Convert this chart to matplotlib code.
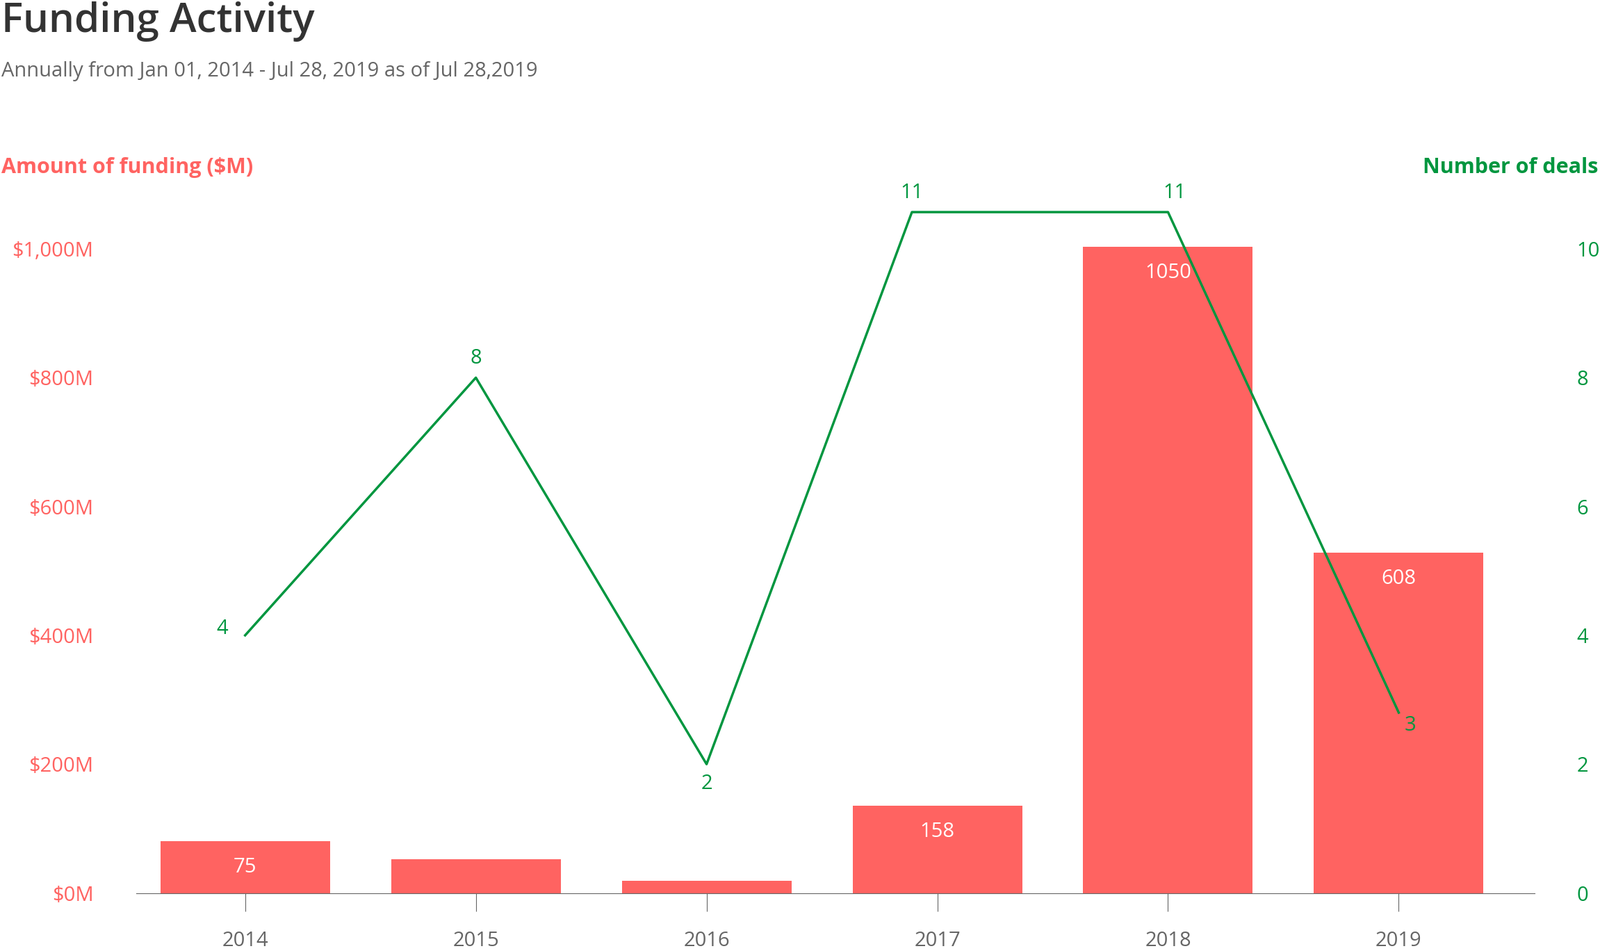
import matplotlib
matplotlib.use("Agg")
import matplotlib.pyplot as plt
import numpy as np

plt.rcParams["font.family"] = "Open Sans"

years = ["2014", "2015", "2016", "2017", "2018", "2019"]
funding = [80, 52, 19, 135, 1003, 528]          # bar heights as drawn ($M)
funding_labels = ["75", "", "", "158", "1050", "608"]
deals = [4, 8, 2, 10.57, 10.57, 2.8]             # line as drawn
deal_labels = ["4", "8", "2", "11", "11", "3"]
deal_shift = [0, 0, 0, -0.11, 0, 0]              # line point drawn slightly left of 2017 tick
left_ticks = [0, 200, 400, 600, 800, 1000]
left_ticklabels = ["$0M", "$200M", "$400M", "$600M", "$800M", "$1,000M"]
right_ticks = [0, 2, 4, 6, 8, 10]

RED = "#ff6361"
GREEN = "#00963f"
GREY = "#666666"

fig = plt.figure(figsize=(23.02, 13.68), dpi=100)
ax = fig.add_axes([0.085, 0.061, 0.874, 0.718])
ax2 = ax.twinx()

x = np.arange(len(years))
ax.bar(x, funding, width=0.735, color=RED, zorder=1)
for xi, h, lab in zip(x, funding, funding_labels):
    if lab:
        ax.text(xi, h - 40, lab, ha="center", va="center", color="white", fontsize=21)

lx = x + np.array(deal_shift)
ax2.plot(lx, deals, color=GREEN, lw=2.5)
offsets = [(-0.1, 0.1), (0, 0.3), (0, -0.3), (0, 0.3), (0.03, 0.3), (0.05, -0.2)]
for xi, v, lab, (dx, dy) in zip(lx, deals, deal_labels, offsets):
    ax2.text(xi + dx, v + dy, lab, ha="center", va="center", color=GREEN, fontsize=21)

ax.set_xlim(-0.473, 5.588)
ax.set_ylim(0, 1060)
ax2.set_ylim(0, 10.6)
ax.set_xticks(x)
ax.set_xticklabels(years, color=GREY, fontsize=21)
ax.tick_params(axis="x", length=19, color=GREY, pad=20)
ax.set_yticks(left_ticks)
ax.set_yticklabels(left_ticklabels, color=RED, fontsize=21)
ax.tick_params(axis="y", length=0, pad=44)
ax2.set_yticks(right_ticks)
ax2.set_yticklabels([str(t) for t in right_ticks], color=GREEN, fontsize=21)
ax2.tick_params(axis="y", length=0, pad=44)

for a in (ax, ax2):
    for s in ["top", "left", "right", "bottom"]:
        a.spines[s].set_visible(False)
ax.spines["bottom"].set_visible(True)
ax.spines["bottom"].set_color(GREY)

fig.text(0.001, 0.977, "Funding Activity", fontsize=42, color="#333333", va="center", fontweight="semibold")
fig.text(0.001, 0.925, "Annually from Jan 01, 2014 - Jul 28, 2019 as of Jul 28,2019", fontsize=21, color=GREY, va="center")
fig.text(0.001, 0.824, "Amount of funding ($M)", fontsize=22, color=RED, va="center", fontweight="bold")
fig.text(0.999, 0.824, "Number of deals", fontsize=22, color=GREEN, va="center", ha="right", fontweight="bold")

fig.savefig("out.png", dpi=100)
